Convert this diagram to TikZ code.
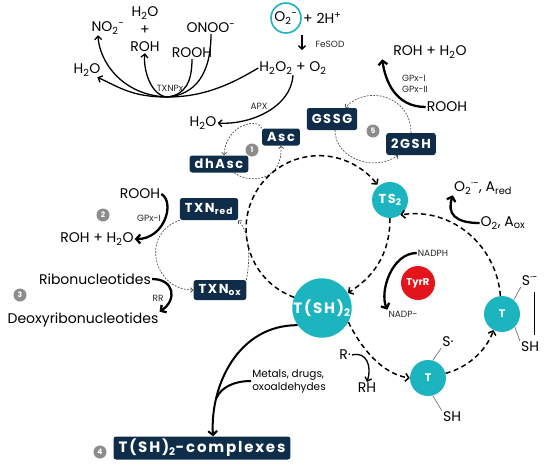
\documentclass[tikz,border=0pt]{standalone}
\usepackage{fontspec}
\setmainfont{Poppins}
\newfontfamily\cajafont{Poppins}[LetterSpace=12]
\usetikzlibrary{arrows.meta}

\definecolor{azulosc}{HTML}{0F2C48}
\definecolor{turquesa}{HTML}{1BB4BF}
\definecolor{rojo}{HTML}{E4141C}
\definecolor{grismarca}{HTML}{8C8C8C}

\newcommand\bajo[1]{\textsubscript{#1}}
\newcommand\alto[1]{\textsuperscript{#1}}

\begin{document}
\begin{tikzpicture}[x=1pt,y=-1pt]

  % Estilo de nodos
  \tikzset{
    etq/.style={font=\fontsize{14}{16}\selectfont, inner sep=1pt},
    chica/.style={font=\fontsize{9}{10.5}\selectfont, inner sep=1pt, text=black!85},
    caja/.style={fill=azulosc, text=white, rounded corners=2.5pt, inner xsep=5pt,
      inner ysep=0pt, minimum height=22pt, font=\cajafont\bfseries\fontsize{13}{15}\selectfont},
    bola/.style={circle, fill=turquesa, text=white, inner sep=0pt,
      font=\cajafont\bfseries\fontsize{11}{13}\selectfont},
    marca/.style={circle, fill=grismarca, text=white, minimum size=13pt, inner sep=0pt,
      font=\bfseries\fontsize{7.5}{8}\selectfont},
    flecha/.style={line width=1.3pt, -{Straight Barb[length=3.5pt,width=7pt]}},
    gruesa/.style={line width=2.3pt, -{Straight Barb[length=4pt,width=9pt]}},
    rayas/.style={line width=1.5pt, dash pattern=on 5pt off 3.5pt, -{Straight Barb[length=3.5pt,width=8pt]}},
    punteo/.style={line width=0.7pt, draw=black!70, dash pattern=on 1.8pt off 1.4pt,
      -{Straight Barb[length=2.5pt,width=5pt]}},
    enlace/.style={line width=0.7pt, draw=black!55}
  }

  \useasboundingbox (0,0) rectangle (550,467);

  % Nodos de arriba
  \node[etq] (no2) at (108,28) {NO\bajo{2}\alto{-}};
  \node[etq] (h2oa) at (145,13) {H\bajo{2}O};
  \node[etq] (mas) at (145,30) {+};
  \node[etq] (roha) at (145,47) {ROH};
  \node[etq] (onoo) at (211,28) {ONOO\alto{-}};
  \node[etq] (rooha) at (192,53) {ROOH};
  \node[etq] (h2ob) at (87,70) {H\bajo{2}O};
  \node[chica] (txnpx) at (170,88) {TXNPx};
  \coordinate (c0) at (167,97);

  \node[etq, circle, draw=turquesa, line width=1.6pt, minimum size=30pt, inner sep=0pt] (o2) at (286,18) {O\bajo{2}\alto{-}};
  \node[etq, anchor=west] (hmas) at (302,18) {+ 2H\alto{+}};
  \coordinate (fs1) at (302,35);
  \coordinate (fs2) at (302,50);
  \node[chica] (fesod) at (330,44) {FeSOD};
  \node[etq] (h2o2) at (293,68) {H\bajo{2}O\bajo{2} + O\bajo{2}};
  \node[chica] (apx) at (259,106) {APX};
  \node[etq] (h2oc) at (203,123) {H\bajo{2}O};

  \node[etq] (rohb) at (430,52) {ROH + H\bajo{2}O};
  \node[chica, align=left] (gpx) at (415,84) {GPx-I\\GPx-II};
  \node[etq] (roohb) at (447,107) {ROOH};

  % Cajas
  \node[caja, minimum height=17pt] (asc) at (281,137) {Asc};
  \node[caja, minimum height=17pt] (dhasc) at (219,164) {dhAsc};
  \node[caja] (gssg) at (332,119) {GSSG};
  \node[caja] (gsh) at (411,144) {2GSH};
  \node[caja] (txnred) at (209,209) {TXN\bajo{red}};
  \node[caja, minimum height=20pt] (txnox) at (220,290) {TXN\bajo{ox}};
  \node[caja, minimum height=23pt, font=\cajafont\bfseries\fontsize{15}{17}\selectfont] (cplx) at (202,448) {T(SH)\bajo{2}-complexes};

  % Marcas
  \node[marca] (m1) at (252,150) {1};
  \node[marca] (m2) at (103,215) {2};
  \node[marca] (m3) at (20,295) {3};
  \node[marca] (m4) at (100,452) {4};
  \node[marca] (m5) at (373,131) {5};

  % Bolas
  \node[bola, minimum size=58pt, font=\cajafont\bfseries\fontsize{15}{17}\selectfont] (tsh) at (322,308) {T(SH)\bajo{2}};
  \node[bola, minimum size=36pt, font=\cajafont\bfseries\fontsize{13}{15}\selectfont] (ts2) at (390,200) {TS\bajo{2}};
  \node[circle, fill=rojo, text=white, minimum size=34pt, inner sep=0pt,
    font=\bfseries\fontsize{10}{12}\selectfont] (tyrr) at (418,283) {TyrR};
  \node[bola, minimum size=36pt] (tm) at (428,378) {T};
  \node[bola, minimum size=36pt] (tr) at (502,314) {T};

  % Etiquetas de la derecha
  \node[chica] (nadph) at (433,253) {NADPH};
  \node[chica] (nadp) at (403,314) {NADP-};
  \node[etq] (o2red) at (483,188) {O\bajo{2}\alto{·-}, A\bajo{red}};
  \node[etq] (o2ox) at (503,223) {O\bajo{2}, A\bajo{ox}};
  \node[etq] (rdot) at (345,355) {R·};
  \node[etq] (rh) at (367,388) {RH};
  \node[etq] (sc) at (448,342) {S·};
  \node[etq] (sd) at (452,417) {SH};
  \node[etq] (sa) at (530,281) {S\alto{·-}};
  \node[etq] (sb) at (530,347) {SH};

  % Etiquetas de la izquierda
  \node[etq] (roohc) at (140,194) {ROOH};
  \node[chica] (gpx1) at (149,218) {GPx-I};
  \node[etq] (rohc) at (97,239) {ROH + H\bajo{2}O};
  \node[etq] (ribo) at (95,279) {Ribonucleotides};
  \node[chica] (rr) at (158,298) {RR};
  \node[etq] (deoxy) at (83,320) {Deoxyribonucleotides};
  \node[font=\fontsize{10.5}{13}\selectfont, align=left, inner sep=1pt] (metal) at (289,381) {Metals, drugs,\\oxoaldehydes};

  % Flechas de arriba
  \draw[flecha] (h2o2.west) .. controls +(-30,18) and +(35,0) .. (c0)
    .. controls +(-35,0) and +(22,10) .. (h2ob.-35);
  \draw[flecha] (c0) .. controls +(-47,-2) and +(1,24) .. ([xshift=-10]no2.south);
  \draw[flecha] (c0) .. controls +(-17,-2) and +(-2,15) .. (roha.south);
  \draw[line width=1.3pt] (rooha.south) .. controls +(0,23) and +(18,-2) .. (c0);
  \draw[line width=1.3pt] (onoo.south) .. controls +(0,40) and +(28,-2) .. (c0);
  \draw[flecha] (fs1) -- (fs2);
  \draw[flecha] (h2o2.south) .. controls +(-2,32) and +(33,2) .. (h2oc.east);
  \draw[gruesa] (roohb.west) .. controls +(-30,0) and +(3,22) .. ([xshift=-10]rohb.south west);

  % Ciclos punteados
  \draw[punteo] (asc.north west) .. controls +(-4,-11) and +(2,-31) .. ([xshift=5]dhasc.north);
  \draw[punteo] (dhasc.-30) .. controls +(16,12) and +(2,35) .. (asc.south);
  \draw[punteo] (gsh.north) .. controls +(0,-38) and +(20,-23) .. (gssg.40);
  \draw[punteo] (gssg.-75) .. controls +(0,29) and +(-23,17) .. (gsh.-139);
  \draw[punteo] (txnred.south west) .. controls +(-40,14) and +(-40,0) .. (txnox.west);
  \draw[punteo] (txnox.north east) .. controls +(3,-18) and +(13,15) .. (txnred.south east);

  % Ciclo principal
  \draw[rayas] (tsh.159) arc[start angle=-250, end angle=-37, radius=73];
  \draw[rayas] (tr.95) .. controls +(-4,-50) and +(52,-8) .. (ts2.-55);
  \draw[rayas] (ts2.south) .. controls +(0,40) and +(22,-14) .. (tsh.30);
  \draw[rayas] (tsh.-28) .. controls +(12,25) and +(-28,-4) .. (tm.west);
  \draw[rayas] (tm.15) .. controls +(24,-6) and +(-6,18) .. (tr.-118);

  % Flechas gruesas
  \draw[gruesa] (nadph.west) .. controls +(-25,0) and +(-8,-18) .. (nadp.north west);
  \draw[gruesa] (o2ox.west) .. controls +(-25,0) and +(-6,18) .. (o2red.south west);
  \draw[flecha] (rdot.east) .. controls +(15,-4) and +(5,-15) .. (rh.north);
  \draw[gruesa] (roohc.east) .. controls +(14,8) and +(30,0) .. (rohc.east);
  \draw[gruesa] (ribo.east) .. controls +(22,0) and +(18,-12) .. (deoxy.north east);

  % Complejos
  \coordinate (junta) at (216.6,398);
  \draw[gruesa, line width=2pt] (tsh.215) .. controls +(-60,0) and +(-3,-50) .. ([xshift=11]cplx.north);
  \draw[line width=2pt] (metal.west) .. controls +(-18,0) and +(4,-10) .. (junta);

  % Enlaces
  \draw[enlace] (tm.75) -- (sc.south west);
  \draw[enlace] (tm.-75) -- (sd.north west);
  \draw[enlace] (tr.50) -- (sa.south west);
  \draw[enlace] (tr.-45) -- (sb.north west);
  \draw[enlace, draw=black] ([shift={(4,5)}]sa.south) -- ([shift={(4,-6)}]sb.north);

\end{tikzpicture}
\end{document}
